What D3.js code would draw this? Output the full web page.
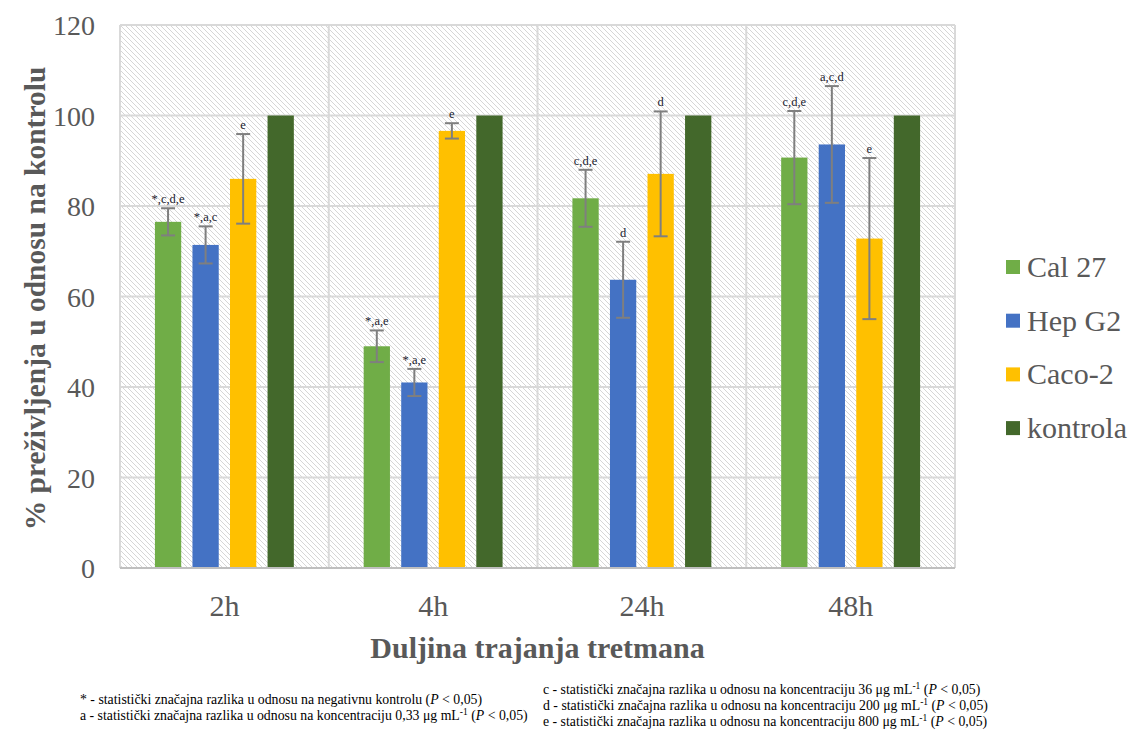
<!DOCTYPE html>
<html>
<head>
<meta charset="utf-8">
<script src="https://cdn.jsdelivr.net/npm/d3@7"></script>
<style>
  body { margin: 0; background: #fff; }
  svg text { font-family: "Liberation Serif", "Times New Roman", serif; }
</style>
</head>
<body>
<svg id="svg" width="1129" height="731"></svg>
<script>
/* data */
var times = ['2h', '4h', '24h', '48h'];
var series = ['Cal 27', 'Hep G2', 'Caco-2', 'kontrola'];
var colors = ['#70ad47', '#4472c4', '#ffc000', '#43682b'];
var cal27 = [76.5, 49.0, 81.7, 90.7];
var cal27Err = [3.0, 3.5, 6.3, 10.3];
var hepg2 = [71.4, 41.0, 63.7, 93.6];
var hepg2Err = [4.1, 3.0, 8.4, 12.9];
var caco2 = [86.0, 96.6, 87.1, 72.8];
var caco2Err = [9.9, 1.7, 13.8, 17.8];
var kontrola = [100, 100, 100, 100];
var marks = [
  ['*,c,d,e', '*,a,c', 'e'],
  ['*,a,e', '*,a,e', 'e'],
  ['c,d,e', 'd', 'd'],
  ['c,d,e', 'a,c,d', 'e']
];
var yTicks = [0, 20, 40, 60, 80, 100, 120];

var svg = d3.select('svg');
var pLeft = 120, pRight = 955, pTop = 25, pBottom = 568;

var x0 = d3.scaleBand().domain(times).range([pLeft, pRight]).paddingInner(0).paddingOuter(0);
var x1 = d3.scaleBand().domain(series).range([0, x0.bandwidth()]).paddingInner(0.3).paddingOuter(0.93);
var y = d3.scaleLinear().domain([0, 120]).range([pBottom, pTop]);

// hatch background
var defs = svg.append('defs');
var pat = defs.append('pattern').attr('id', 'hatch')
  .attr('patternUnits', 'userSpaceOnUse').attr('width', 5).attr('height', 5);
pat.append('rect').attr('width', 5).attr('height', 5).attr('fill', '#fff');
pat.append('path').attr('d', 'M-1,-1 L6,6 M-1,4 L1,6 M4,-1 L6,1')
  .attr('stroke', '#d6d6d6').attr('stroke-width', 1);

svg.append('rect').attr('x', pLeft).attr('y', pTop)
  .attr('width', pRight - pLeft).attr('height', pBottom - pTop)
  .attr('fill', 'url(#hatch)');

// grid
svg.append('g').selectAll('line').data(yTicks).enter().append('line')
  .attr('x1', pLeft).attr('x2', pRight)
  .attr('y1', function(d) { return y(d); }).attr('y2', function(d) { return y(d); })
  .attr('stroke', '#d9d9d9').attr('stroke-width', 2);

var bounds = times.map(function(t) { return x0(t); }).concat([pRight]);
svg.append('g').selectAll('line').data(bounds).enter().append('line')
  .attr('x1', function(d) { return d; }).attr('x2', function(d) { return d; })
  .attr('y1', pTop).attr('y2', pBottom)
  .attr('stroke', '#d9d9d9').attr('stroke-width', 2);

// bars
var values = [cal27, hepg2, caco2, kontrola];
var errs = [cal27Err, hepg2Err, caco2Err, null];
var rows = [];
times.forEach(function(t, i) {
  series.forEach(function(s, j) {
    rows.push({ t: t, s: s, i: i, j: j, v: values[j][i], e: errs[j] ? errs[j][i] : null,
      m: j < 3 ? marks[i][j] : null });
  });
});

svg.append('g').selectAll('rect').data(rows).enter().append('rect')
  .attr('x', function(d) { return x0(d.t) + x1(d.s); })
  .attr('width', x1.bandwidth())
  .attr('y', function(d) { return y(d.v); })
  .attr('height', function(d) { return y(0) - y(d.v); })
  .attr('fill', function(d) { return colors[d.j]; });

// axis line
svg.append('line').attr('x1', pLeft).attr('x2', pRight).attr('y1', pBottom).attr('y2', pBottom)
  .attr('stroke', '#bfbfbf').attr('stroke-width', 2);

// error bars
var eb = svg.append('g').selectAll('g').data(rows.filter(function(d) { return d.e !== null; }))
  .enter().append('g')
  .attr('stroke', '#7f7f7f').attr('stroke-width', 2);
function cx(d) { return x0(d.t) + x1(d.s) + x1.bandwidth() / 2; }
eb.append('line').attr('x1', cx).attr('x2', cx)
  .attr('y1', function(d) { return y(d.v + d.e); }).attr('y2', function(d) { return y(d.v - d.e); });
eb.append('line').attr('x1', function(d) { return cx(d) - 7; }).attr('x2', function(d) { return cx(d) + 7; })
  .attr('y1', function(d) { return y(d.v + d.e); }).attr('y2', function(d) { return y(d.v + d.e); });
eb.append('line').attr('x1', function(d) { return cx(d) - 7; }).attr('x2', function(d) { return cx(d) + 7; })
  .attr('y1', function(d) { return y(d.v - d.e); }).attr('y2', function(d) { return y(d.v - d.e); });

// significance letters
svg.append('g').selectAll('text').data(rows.filter(function(d) { return d.m; }))
  .enter().append('text')
  .attr('x', cx)
  .attr('y', function(d) { return y(d.v + d.e) - 5; })
  .attr('text-anchor', 'middle')
  .attr('font-size', 12.5).attr('fill', '#1a1a2e')
  .text(function(d) { return d.m; });

// y tick labels
svg.append('g').selectAll('text').data(yTicks).enter().append('text')
  .attr('x', 95).attr('y', function(d) { return y(d) + 10; })
  .attr('text-anchor', 'end').attr('font-size', 28).attr('fill', '#595959')
  .text(function(d) { return d; });

// x tick labels
svg.append('g').selectAll('text').data(times).enter().append('text')
  .attr('x', function(d) { return x0(d) + x0.bandwidth() / 2; }).attr('y', 616)
  .attr('text-anchor', 'middle').attr('font-size', 30).attr('fill', '#595959')
  .text(function(d) { return d; });

// axis titles
svg.append('text').attr('transform', 'translate(45,' + ((pTop + pBottom) / 2 + 2) + ') rotate(-90)')
  .attr('text-anchor', 'middle').attr('font-size', 29.5).attr('font-weight', 'bold').attr('fill', '#595959')
  .text('% preživljenja u odnosu na kontrolu');
svg.append('text').attr('x', (pLeft + pRight) / 2).attr('y', 658)
  .attr('text-anchor', 'middle').attr('font-size', 30).attr('font-weight', 'bold').attr('fill', '#595959')
  .text('Duljina trajanja tretmana');

// legend
var lg = svg.append('g').selectAll('g').data(series).enter().append('g')
  .attr('transform', function(d, i) { return 'translate(1006,' + (267 + i * 53.7) + ')'; });
lg.append('rect').attr('x', 0).attr('y', -7).attr('width', 14).attr('height', 14)
  .attr('fill', function(d, i) { return colors[i]; });
lg.append('text').attr('x', 21).attr('y', 10).attr('font-size', 30).attr('fill', '#595959')
  .text(function(d) { return d; });

// footnotes
function note(xp, yp, letter, text, conc) {
  var t = svg.append('text').attr('x', xp).attr('y', yp).attr('font-size', 13.8).attr('fill', '#000');
  t.append('tspan').text(letter + ' - statistički značajna razlika u odnosu na ' + text);
  if (conc) {
    t.append('tspan').text(' ' + conc + ' μg mL');
    t.append('tspan').attr('dy', -5).attr('font-size', 9.5).text('-1');
    t.append('tspan').attr('dy', 5).text(' (');
  } else {
    t.append('tspan').text(' (');
  }
  t.append('tspan').attr('font-style', 'italic').text('P');
  t.append('tspan').text(' < 0,05)');
}
note(80, 704, '*', 'negativnu kontrolu', null);
note(80, 720, 'a', 'koncentraciju', '0,33');
note(543, 694, 'c', 'koncentraciju', '36');
note(543, 710, 'd', 'koncentraciju', '200');
note(543, 726, 'e', 'koncentraciju', '800');
</script>
</body>
</html>
